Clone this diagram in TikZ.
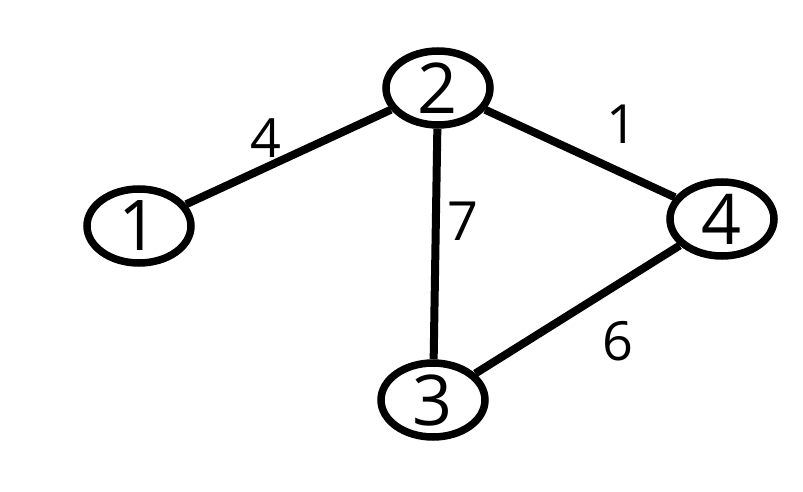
\documentclass[tikz,border=0pt]{standalone}
\usepackage{fontspec}
\setmainfont{Open Sans}
\usetikzlibrary{shapes.geometric}
\begin{document}
\begin{tikzpicture}[x=1pt,y=-1pt,
  vert/.style={draw, ellipse, line width=7.5pt, minimum width=104pt, minimum height=74pt, inner sep=0pt, font=\fontsize{70}{70}\selectfont},
  edge/.style={line width=8pt},
  lbl/.style={font=\fontsize{54}{54}\selectfont}]
\useasboundingbox (0,0) rectangle (803,492);
\node[vert] (n1) at (139,226) {1};
\node[vert] (n2) at (438,88) {2};
\node[vert] (n3) at (433,400) {3};
\node[vert] (n4) at (722,219) {4};
\draw[edge] (n1) -- (n2);
\draw[edge] (n2) -- (n3);
\draw[edge] (n2) -- (n4);
\draw[edge] (n3) -- (n4);
\node[lbl] (l4) at (266,138) {4};
\node[lbl] (l1) at (622,124) {1};
\node[lbl] (l7) at (463,221) {7};
\node[lbl] (l6) at (618,341) {6};
\end{tikzpicture}
\end{document}
